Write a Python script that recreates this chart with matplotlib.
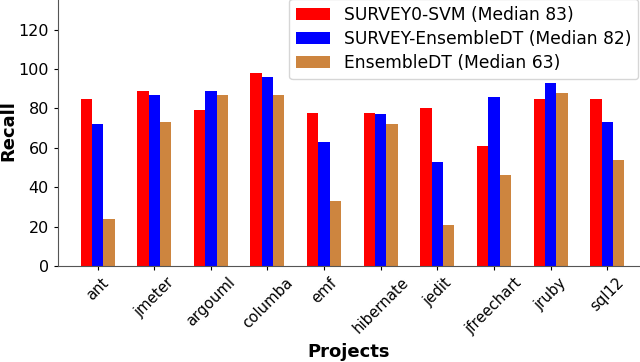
import numpy as np
import matplotlib
matplotlib.use("Agg")
import matplotlib.pyplot as plt

projects = ['ant', 'jmeter', 'argouml', 'columba', 'emf', 'hibernate',
            'jedit', 'jfreechart', 'jruby', 'sql12']
survey0_svm = [85, 89, 79, 98, 77.5, 77.5, 80, 61, 85, 85]
survey_ensdt = [72, 87, 89, 96, 63, 77, 53, 86, 93, 73]
ensdt = [24, 73, 87, 87, 33, 72, 21, 46, 88, 54]
labels = ['SURVEY0-SVM (Median 83)', 'SURVEY-EnsembleDT (Median 82)',
          'EnsembleDT (Median 63)']
colors = ['red', 'blue', 'peru']

fig = plt.figure(figsize=(6.4, 3.62), dpi=100)
ax = fig.add_axes([58 / 640, 96 / 362, 1 - 58 / 640, 266 / 362])

x = np.arange(len(projects))
w = 0.2
for i, (vals, lab, c) in enumerate(zip([survey0_svm, survey_ensdt, ensdt], labels, colors)):
    ax.bar(x + (i - 1) * w, vals, w, color=c, label=lab)

ax.set_xlim(-0.7, 9.58)
ax.set_ylim(0, 135)
ax.set_yticks(range(0, 121, 20))
ax.set_xticks(x)
ax.set_xticklabels(projects, rotation=45, fontsize=10.7)
ax.tick_params(axis='y', labelsize=11.5, length=3)
ax.tick_params(axis='x', length=3)
ax.set_ylabel('Recall', fontsize=13, fontweight='bold')
ax.yaxis.set_label_coords(-0.07, 0.51)
ax.set_xlabel('Projects', fontsize=13, fontweight='bold')
ax.xaxis.set_label_coords(0.5, -0.29)
for s in ['top', 'right']:
    ax.spines[s].set_visible(False)
for s in ['left', 'bottom']:
    ax.spines[s].set_color('#555555')

ax.legend(loc='upper right', fontsize=12.3, labelspacing=0.37,
          bbox_to_anchor=(1.012, 1.036))
fig.savefig('out.png', dpi=100)
